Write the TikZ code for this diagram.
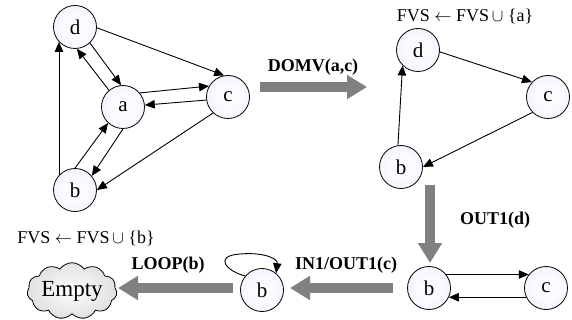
\documentclass[tikz,border=0pt]{standalone}
\usepackage{fontspec}
\setmainfont{Liberation Serif}
\usetikzlibrary{arrows.meta,shapes.symbols}
\begin{document}
\begin{tikzpicture}[x=1pt,y=-1pt,
  vtx/.style={circle,draw=black,line width=0.8pt,minimum size=43pt,inner sep=0pt,
    inner color=white,outer color=black!8!blue!4,font=\fontsize{21}{23}\selectfont},
  edge/.style={line width=0.9pt,-{Triangle[length=10pt,width=8.5pt]}},
  bigarrow/.style={line width=10pt,draw=black!50,-{Triangle[length=20pt,width=23pt]}},
  steplabel/.style={anchor=base,font=\fontsize{18}{20}\selectfont\bfseries,inner sep=0pt},
  fvslabel/.style={anchor=base,font=\fontsize{18}{20}\selectfont,inner sep=0pt}]
\useasboundingbox (0,0) rectangle (572,320);

% first graph
\node[vtx] (d1) at (75,27) {d};
\node[vtx] (a1) at (123,107) {a};
\node[vtx] (c1) at (228,97) {c};
\node[vtx] (b1) at (75,190) {b};
\draw[edge] (d1.-2) -- (c1.100);
\draw[edge] (d1.-47) -- (a1.95);
\draw[edge] (a1.130) -- (d1.-85);
\draw[edge] (a1.40) -- (c1.150);
\draw[edge] (c1.188) -- (a1.5);
\draw[edge] (b1.90) -- (a1.227);
\draw[edge] (a1.270) -- (b1.40);
\draw[edge] (c1.227) -- (b1.0);
\draw[edge] (b1.137) -- (d1.223);

% second graph
\node[fvslabel] (f1) at (465,22) {FVS $\leftarrow$ FVS$\,\cup$ \{a\}};
\node[vtx] (d2) at (418,50) {d};
\node[vtx] (c2) at (548,97) {c};
\node[vtx] (b2) at (401,167) {b};
\draw[edge] (d2.-5) -- (c2.137);
\draw[edge] (c2.225) -- (b2.0);
\draw[edge] (b2.98) -- (d2.225);

% third graph
\node[vtx] (b3) at (429,288) {b};
\node[vtx] (c3) at (546,288) {c};
\draw[edge] (b3.38) -- (c3.142);
\draw[edge] (c3.205) -- (b3.335);

% fourth graph: b with a self loop
\node[vtx] (b4) at (262,290) {b};
\coordinate (looptop) at (240,254);
\draw[edge] (b4.140) .. controls (228,272) and (212,256) .. (looptop)
  .. controls (262,252) and (278,258) .. (b4.50);
\node[fvslabel] (f2) at (86,243) {FVS $\leftarrow$ FVS$\,\cup$ \{b\}};
\node[cloud,draw=black,line width=0.8pt,cloud puffs=11,cloud puff arc=110,aspect=1.9,
  minimum width=80pt,minimum height=44pt,inner sep=0pt,
  inner color=white,outer color=black!12,font=\fontsize{23}{25}\selectfont] (empty) at (72,291) {Empty};

% reduction steps
\coordinate (s1) at (260,87);  \coordinate (e1) at (367,87);
\coordinate (s2) at (430,185); \coordinate (e2) at (430,263);
\coordinate (s3) at (393,288); \coordinate (e3) at (290,288);
\coordinate (s4) at (233,288); \coordinate (e4) at (118,288);
\draw[bigarrow] (s1) -- (e1);
\draw[bigarrow] (s2) -- (e2);
\draw[bigarrow] (s3) -- (e3);
\draw[bigarrow] (s4) -- (e4);
\node[steplabel] (l1) at (313,72) {DOMV(a,c)};
\node[steplabel] (l2) at (495,225) {OUT1(d)};
\node[steplabel] (l3) at (346,269) {IN1/OUT1(c)};
\node[steplabel] (l4) at (168,269) {LOOP(b)};
\end{tikzpicture}
\end{document}
